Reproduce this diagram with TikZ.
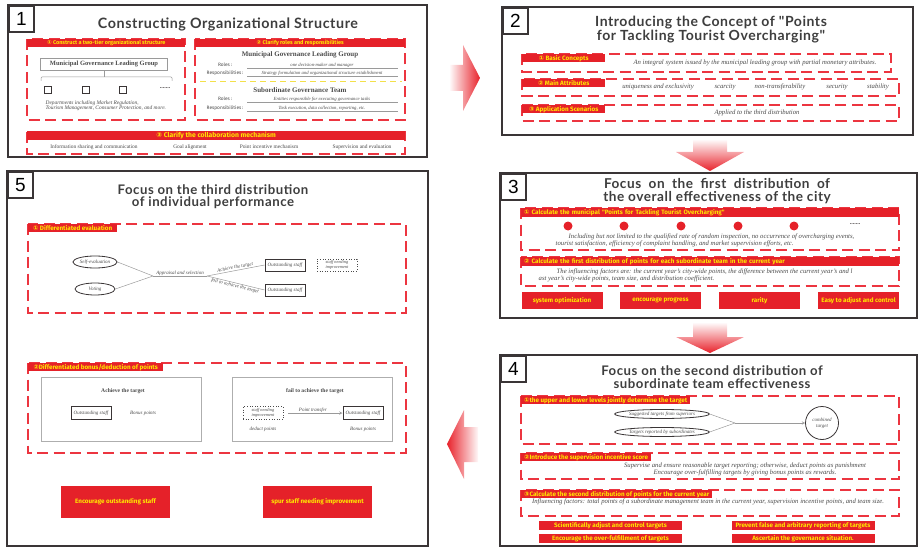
\documentclass[tikz,border=0pt]{standalone}
\usepackage{fontspec}
\setmainfont{Liberation Serif}
\newfontfamily\titlefont[LetterSpace=4]{Lato}
\newfontfamily\barfont{Fira Sans}
\newfontfamily\numfont{Liberation Sans}
\newfontfamily\symfont{DejaVu Sans}
\usetikzlibrary{shapes.geometric}

\definecolor{framegray}{HTML}{3A3536}
\definecolor{barred}{HTML}{E52129}
\definecolor{baryellow}{HTML}{FFE600}
\definecolor{dashred}{HTML}{EC3540}
\definecolor{arrowred}{HTML}{E8222B}
\definecolor{txtgray}{HTML}{4A4A4A}
\definecolor{titlegray}{HTML}{3E3E3E}
\definecolor{linegray}{HTML}{9A9A9A}
\definecolor{yellowdash}{HTML}{F3E04A}

\newcommand\setfs[2]{\fontsize{#1}{#2}\selectfont}
\newcommand\cnum[1]{{\symfont #1}}

\tikzset{
  panel/.style={draw=framegray, line width=2pt},
  numbox/.style={draw=framegray, line width=2pt, fill=white, anchor=north west,
    minimum width=25pt, minimum height=26pt, inner sep=0pt, font=\numfont\setfs{19}{19}},
  ptitle/.style={align=center, text=titlegray, inner sep=0pt, font=\titlefont\bfseries\setfs{14}{12.5}},
  dashbox/.style={draw=dashred, line width=1.2pt, dash pattern=on 11pt off 5.5pt},
  bar/.style={fill=barred, text=baryellow, anchor=north west, inner sep=0pt,
    font=\barfont\bfseries\setfs{6.3}{7}},
  redbox/.style={fill=barred, text=baryellow, inner sep=0pt, font=\barfont\bfseries\setfs{6.3}{7}},
  note/.style={text=txtgray, inner sep=0.5pt, font=\itshape\setfs{6.7}{7.2}},
  smallnote/.style={text=txtgray, inner sep=0.5pt, font=\itshape\setfs{5}{6}},
  subhead/.style={text=txtgray, inner sep=0pt, font=\bfseries\setfs{7}{8}},
  keyword/.style={text=txtgray, inner sep=0pt, font=\barfont\setfs{4.8}{5}},
  staff/.style={draw=framegray, line width=0.8pt, minimum width=40pt, minimum height=12pt,
    inner sep=0pt, smallnote},
  weak/.style={staff, draw=txtgray, line width=0.6pt, dotted, align=center,
    font=\itshape\setfs{4.4}{4.6}},
  oval/.style={ellipse, draw=framegray, line width=0.8pt, inner sep=0pt, smallnote},
  link/.style={draw=linegray, line width=0.5pt},
}

\begin{document}
\begin{tikzpicture}[x=1pt,y=-1pt]
\useasboundingbox (0,0) rectangle (920,548);

% frames and numbers
\draw[panel] (8,5) rectangle (427,157);
\draw[panel] (502,7) rectangle (913,135);
\draw[panel] (500,173) rectangle (917,318);
\draw[panel] (500,355) rectangle (917,546);
\draw[panel] (7,171) rectangle (428,546);
\node[numbox] (n1) at (8,5) {1};
\node[numbox] (n2) at (502,7) {2};
\node[numbox] (n3) at (500,173) {3};
\node[numbox] (n4) at (500,355) {4};
\node[numbox] (n5) at (7,171) {5};

% flow arrows
\shade[left color=arrowred!3, right color=arrowred]
  (450,65) -- (463,65) -- (463,45) -- (480,78) -- (463,111) -- (463,91) -- (450,91) -- cycle;
\shade[top color=arrowred!3, bottom color=arrowred]
  (693,140) -- (727,140) -- (727,152) -- (744,152) -- (710,171) -- (676,152) -- (693,152) -- cycle;
\shade[top color=arrowred!3, bottom color=arrowred]
  (693,323) -- (727,323) -- (727,337) -- (744,337) -- (710,353) -- (676,337) -- (693,337) -- cycle;
\shade[left color=arrowred, right color=arrowred!3]
  (478,427) -- (464,427) -- (464,410) -- (447,444) -- (464,479) -- (464,462) -- (478,462) -- cycle;

% panel 1
\node[ptitle, font=\titlefont\bfseries\setfs{14.3}{14}] (t1) at (228,24) {Constructing Organizational Structure};
\draw[dashbox] (27,39) rectangle (185,120);
\node[bar, minimum width=158pt, minimum height=8pt, font=\barfont\bfseries\setfs{5.5}{6}] (b11) at (27,39)
  {\cnum{①} Construct a two-tier organizational structure};
\node[draw=linegray, line width=0.8pt, minimum width=127pt, minimum height=12pt, subhead,
  font=\bfseries\setfs{6.5}{7}] (lg) at (104,64) {Municipal Governance Leading Group};
\draw[link, rounded corners=1pt] (41,81) -- (41,77) -- (172,77) -- (172,81);
\draw[link] (lg.south) -- (lg.south |- 0,77);
\foreach \x [count=\i] in {48,86,123}
  \node[draw=framegray, line width=0.7pt, minimum size=7pt, inner sep=0pt] (dep\i) at (\x,90) {};
\node[text=framegray, font=\bfseries\setfs{6}{6}] (dep4) at (165,88.5) {.......};
\node[smallnote, font=\itshape\setfs{5.4}{5.2}, align=left, anchor=north west] (deps) at (45,100)
  {Departments including Market Regulation,\\Tourism Management, Consumer Protection, and more.};

\draw[dashbox] (195,39) rectangle (405,120);
\node[bar, minimum width=210pt, minimum height=8pt, font=\barfont\bfseries\setfs{5.5}{6}] (b12) at (195,39)
  {\cnum{②} Clarify roles and responsibilities};
\node[subhead] (h1) at (300,55) {Municipal Governance Leading Group};
\node[subhead] (h2) at (300,90) {Subordinate Governance Team};
\draw[yellowdash, line width=1pt, dash pattern=on 6pt off 4pt] (200,82) -- (402,82);
\foreach \y/\k/\v [count=\i] in {65/Roles/{one decision-maker and manager},
    73/Responsibilities/{Strategy formulation and organizational structure establishment},
    99/Roles/{Entities responsible for executing governance tasks},
    108/Responsibilities/{Task execution, data collection, reporting, etc.}} {
  \node[keyword] (k\i) at (225,\y) {\k\,:};
  \node[smallnote, font=\itshape\setfs{4.7}{5}] (v\i) at (322,\y) {\v};
  \draw[link] (247,\y+3) -- (398,\y+3);
}

\draw[dashbox] (27,132) rectangle (405,154);
\node[bar, minimum width=378pt, minimum height=9pt, font=\barfont\bfseries\setfs{6.8}{7}] (b13) at (27,131)
  {\cnum{③} Clarify the collaboration mechanism};
\foreach \x/\txt [count=\i] in {94/Information sharing and communication, 190/Goal alignment,
    269/Point incentive mechanism, 362/Supervision and evaluation}
  \node[text=txtgray, font=\setfs{5.4}{6}] (m\i) at (\x,147) {\txt};

% panel 2
\node[ptitle] (t2) at (711,30) {Introducing the Concept of "Points\\for Tackling Tourist Overcharging"};
\draw[dashbox] (522,54) rectangle (891,72);
\draw[dashbox] (522,79) rectangle (899,96);
\draw[dashbox] (522,105) rectangle (899,121);
\node[bar, minimum width=83pt, minimum height=8pt] (b21) at (522,54) {\cnum{①} Basic Concepts};
\node[bar, minimum width=83pt, minimum height=8pt] (b22) at (522,79) {\cnum{②} Main Attributes};
\node[bar, minimum width=83pt, minimum height=8pt] (b23) at (522,105) {\cnum{③} Application Scenarios};
\node[note] (c21) at (755,63) {An integral system issued by the municipal leading group with partial monetary attributes.};
\foreach \x/\txt [count=\i] in {658/uniqueness and exclusivity, 725/scarcity, 780/non-transferability,
    837/security, 878/stability}
  \node[note] (at\i) at (\x,87) {\txt};
\node[note] (c23) at (757,113) {Applied to the third distribution};

% panel 3
\node[ptitle, font=\titlefont\bfseries\setfs{13.6}{12.5}] (t3) at (717,191)
  {\makebox[226pt][s]{Focus on the first distribution of}\\the overall effectiveness of the city};
\draw[dashbox] (521,208) rectangle (899,250);
\node[bar, text width=372pt, inner xsep=3pt, align=left, minimum height=9pt] (b31) at (521,208)
  {\cnum{①} Calculate the municipal "Points for Tackling Tourist Overcharging"};
\foreach \x [count=\i] in {568,624,681,738,794}
  \node[circle, fill=barred, minimum size=9pt, inner sep=0pt] (d\i) at (\x,226) {};
\node[text=framegray, font=\bfseries\setfs{6}{6}] (d6) at (855,224.5) {.......};
\node[note, anchor=west] (c31) at (568,237) {Including but not limited to the qualified rate of random inspection, no occurrence of overcharging events,};
\node[note, anchor=west] (c32) at (555,244) {tourist satisfaction, efficiency of complaint handling, and market supervision efforts, etc.};
\draw[dashbox] (521,257) rectangle (899,286);
\node[bar, text width=372pt, inner xsep=3pt, align=left, minimum height=8.5pt] (b32) at (521,257)
  {\cnum{②} Calculate the first distribution of points for each subordinate team in the current year};
\node[note, anchor=west] (c33) at (556,272) {The influencing factors are: the current year's city-wide points, the difference between the current year's and l};
\node[note, anchor=west] (c34) at (538,279) {ast year's city-wide points, team size, and distribution coefficient.};
\foreach \x/\txt [count=\i] in {562/system optimization, 660.5/encourage progress, 759.5/rarity,
    858.5/Easy to adjust and control}
  \node[redbox, minimum width=81pt, minimum height=17pt] (r3\i) at (\x,300.5) {\txt};

% panel 4
\node[ptitle, font=\titlefont\bfseries\setfs{13.2}{12.5}] (t4) at (712,377)
  {Focus on the second distribution of\\subordinate team effectiveness};
\draw[dashbox] (521,396) rectangle (899,444);
\node[bar, inner xsep=3pt, minimum height=8pt] (b41) at (521,396)
  {\cnum{①}the upper and lower levels jointly determine the target};
\node[oval, minimum width=82pt, minimum height=9pt] (e41) at (662,414) {Suggested targets from superiors};
\node[oval, minimum width=82pt, minimum height=9pt] (e42) at (662,432) {Targets reported by subordinates};
\coordinate (j4) at (735,423);
\node[circle, draw=framegray, line width=0.8pt, minimum size=33pt, inner sep=0pt, smallnote, align=center]
  (ct) at (822,423) {combined\\target};
\draw[link] (e41.east) -- (j4);
\draw[link] (e42.east) -- (j4);
\draw[link, -stealth] (j4) -- (ct);
\draw[dashbox] (521,453) rectangle (899,479);
\node[bar, inner xsep=3pt, minimum height=8pt] (b42) at (521,453)
  {\cnum{②}Introduce the supervision incentive score};
\node[note, align=center] (c41) at (745,469.5)
  {Supervise and ensure reasonable target reporting; otherwise, deduct points as punishment\\Encourage over-fulfilling targets by giving bonus points as rewards.};
\draw[dashbox] (521,490) rectangle (899,516);
\node[bar, inner xsep=3pt, minimum height=8pt] (b43) at (521,490)
  {\cnum{③}Calculate the second distribution of points for the current year};
\node[note] (c42) at (708,502) {Influencing factors: total points of a subordinate management team in the current year, supervision incentive points, and team size.};
\foreach \x/\y/\txt [count=\i] in {610.5/525.5/Scientifically adjust and control targets,
    803/525.5/Prevent false and arbitrary reporting of targets,
    610.5/538.5/Encourage the over-fulfillment of targets,
    803/538.5/Ascertain the governance situation.}
  \node[redbox, minimum width=143pt, minimum height=9pt] (r4\i) at (\x,\y) {\txt};

% panel 5
\node[ptitle, font=\titlefont\bfseries\setfs{13.2}{12.5}] (t5) at (213,196.5)
  {Focus on the third distribution\\of individual performance};
\draw[dashbox] (28,224) rectangle (406,313);
\node[bar, minimum width=89pt, minimum height=8pt] (b51) at (28,224) {\cnum{①} Differentiated evaluation};
\node[oval, minimum width=40pt, minimum height=12pt] (se) at (95,262) {Self-evaluation};
\node[oval, minimum width=40pt, minimum height=12pt] (vo) at (95,289) {Voting};
\coordinate (j5) at (153,276);
\coordinate (k5) at (207,276);
\node[staff] (os1) at (285,265) {Outstanding staff};
\node[staff] (os2) at (285,290) {Outstanding staff};
\node[weak] (wk1) at (337,265) {staff needing\\improvement};
\draw[link] (se.east) -- (j5);
\draw[link] (vo.east) -- (j5);
\draw[link] (j5) -- node[above, smallnote] {Appraisal and selection} (k5);
\draw[link] (k5) -- node[sloped, above, smallnote] {Achieve the target} (os1.west);
\draw[link] (k5) -- node[sloped, below, smallnote] {fail to achieve the target} (os2.west);

\draw[dashbox] (28,363) rectangle (406,453);
\node[bar, minimum width=135pt, minimum height=8pt] (b52) at (28,363) {\cnum{②}Differentiated bonus/deduction of points};
\draw[linegray!80, line width=0.8pt] (41,377) rectangle (201,441);
\draw[linegray!80, line width=0.8pt] (232,377) rectangle (392,441);
\node[subhead, font=\bfseries\setfs{5.6}{6}] (ha) at (123,391) {Achieve the target};
\node[subhead, font=\bfseries\setfs{5.6}{6}] (hf) at (315,391) {fail to achieve the target};
\node[staff, minimum height=13pt, line width=1pt] (os3) at (91,413) {Outstanding staff};
\node[smallnote] (bp1) at (143,413) {Bonus points};
\node[weak, minimum height=13pt] (wk2) at (263,413) {staff needing\\improvement};
\node[staff, minimum height=13pt, line width=1pt] (os4) at (363,413) {Outstanding staff};
\draw[link, -stealth, shorten <=5pt] (wk2) -- node[above, smallnote] {Point transfer} (os4);
\node[smallnote] (dp) at (263,429) {deduct points};
\node[smallnote] (bp2) at (363,429) {Bonus points};
\node[redbox, minimum width=109pt, minimum height=32pt] (r51) at (115.5,502) {Encourage outstanding staff};
\node[redbox, minimum width=109pt, minimum height=32pt] (r52) at (317.5,502) {spur staff needing improvement};
\end{tikzpicture}
\end{document}
